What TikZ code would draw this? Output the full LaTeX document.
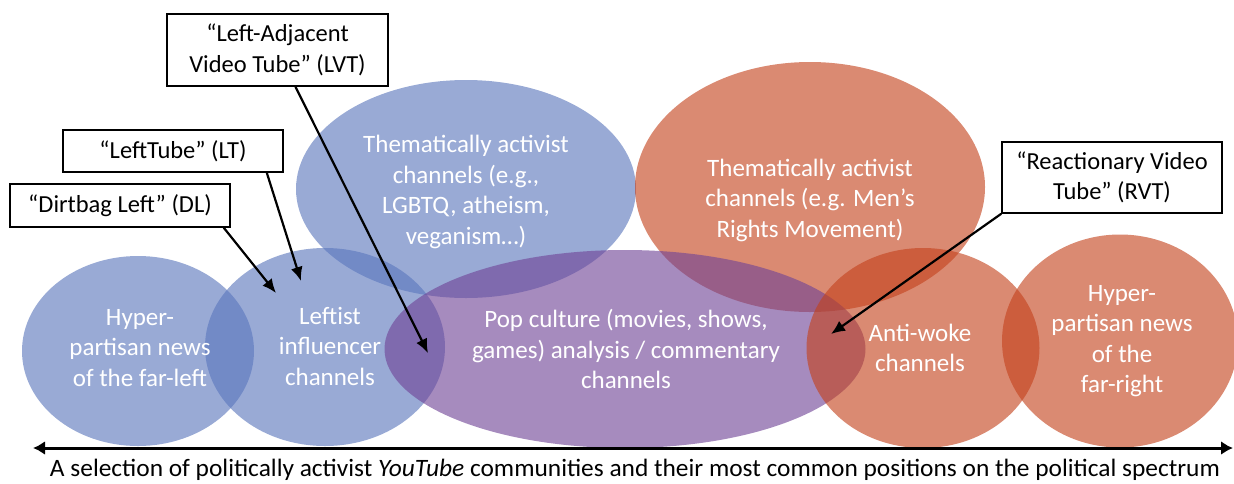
\documentclass[tikz,border=0pt]{standalone}
\usepackage{fontspec}
\setmainfont{Carlito}
\usetikzlibrary{arrows.meta,shapes.geometric}
\definecolor{bl}{RGB}{90,118,188}
\definecolor{rd}{RGB}{195,66,28}
\definecolor{pu}{RGB}{112,68,150}
\begin{document}
\begin{tikzpicture}[x=1pt,y=-1pt,
  blob/.style={ellipse, draw=none, fill opacity=0.62, inner sep=0pt},
  lbl/.style={text=white, align=center, inner sep=0pt, font=\fontsize{25}{30.5}\selectfont},
  callout/.style={draw=black, line width=1.6pt, fill=white, align=center, inner sep=0pt, font=\fontsize{24.5}{30.5}\selectfont},
  ptr/.style={line width=2.2pt, -{Latex[length=14pt,width=12pt]}},
  spectrum/.style={line width=3pt, {Latex[length=12pt,width=14pt]}-{Latex[length=12pt,width=14pt]}}]
\useasboundingbox (0,0) rectangle (1234,483);

% ellipses
\node[blob, fill=bl, minimum width=232pt, minimum height=190pt] (farleft) at (138,351) {};
\node[blob, fill=bl, minimum width=240pt, minimum height=198pt] (leftist) at (325,347) {};
\node[blob, fill=bl, minimum width=340pt, minimum height=218pt] (thblue) at (466,189) {};
\node[blob, fill=rd, minimum width=350pt, minimum height=250pt] (thred) at (810,187) {};
\node[blob, fill=pu, minimum width=481pt, minimum height=198pt] (pop) at (625,349) {};
\node[blob, fill=rd, minimum width=233pt, minimum height=200pt] (antiwoke) at (923,348) {};
\node[blob, fill=rd, minimum width=236pt, minimum height=213pt] (farright) at (1120,341) {};

% labels
\node[lbl] (tfarleft) at (140,348) {Hyper-\\partisan news\\of the far-left};
\node[lbl] (tleftist) at (330,346) {Leftist\\influencer\\channels};
\node[lbl] (tthblue) at (466,192) {Thematically activist\\channels (e.g.,\\LGBTQ, atheism,\\veganism…)};
\node[lbl] (tthred) at (810,200) {Thematically activist\\channels (e.g. Men’s\\Rights Movement)};
\node[lbl] (tpop) at (626,349) {Pop culture (movies, shows,\\games) analysis / commentary\\channels};
\node[lbl] (tantiwoke) at (920,348) {Anti-woke\\channels};
\node[lbl] (tfarright) at (1122,341) {Hyper-\\partisan news\\of the\\far-right};

% spectrum arrow
\coordinate (specL) at (33,448);
\coordinate (specR) at (1233,448);
\draw[spectrum] (specL) -- (specR);
\node[inner sep=0pt] (caption) at (635,470) {\resizebox{1170pt}{\height}{\fontsize{25}{28}\selectfont A selection of politically activist \textit{YouTube} communities and their most common positions on the political spectrum}};

% callouts
\node[callout, minimum width=221pt, minimum height=72pt] (lvt) at (277.5,50) {“Left-Adjacent\\Video Tube” (LVT)};
\node[callout, minimum width=220pt, minimum height=42pt] (lt) at (173,151) {“LeftTube” (LT)};
\node[callout, minimum width=220pt, minimum height=43pt] (dl) at (120,205.5) {“Dirtbag Left” (DL)};
\node[callout, minimum width=220pt, minimum height=71pt] (rvt) at (1112,177.5) {“Reactionary Video\\Tube” (RVT)};

\coordinate (dltip) at (276,293);
\coordinate (lttip) at (301,281);
\coordinate (lvttip) at (428,353);
\coordinate (rvttip) at (831,334);

\draw[ptr] ([xshift=-7pt]dl.south east) -- (dltip);
\draw[ptr] ([xshift=-17pt]lt.south east) -- (lttip);
\draw[ptr] ([xshift=18pt]lvt.south) -- (lvttip);
\draw[ptr] (rvt.south west) -- (rvttip);
\end{tikzpicture}
\end{document}
